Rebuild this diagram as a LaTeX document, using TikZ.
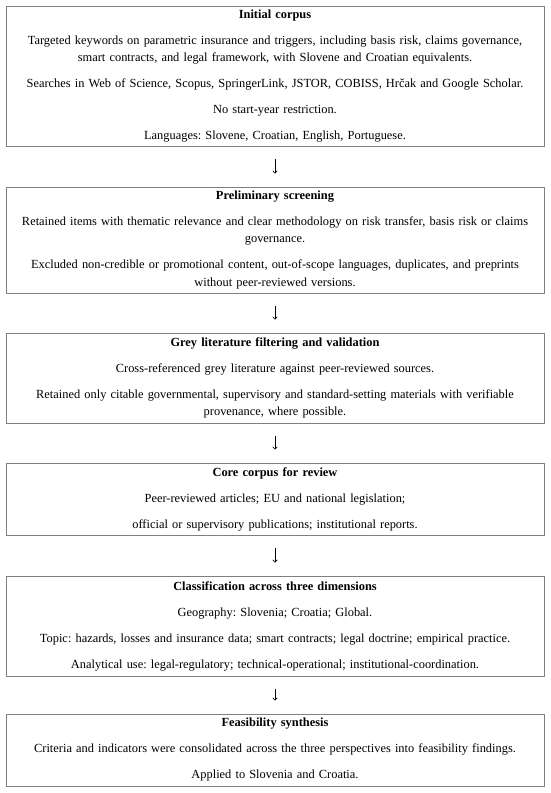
\documentclass[tikz,border=0pt]{standalone}
\usepackage{fontspec}
\setmainfont{Liberation Serif}
\usetikzlibrary{arrows.meta}
\definecolor{boxgray}{HTML}{7F7F7F}
\tikzset{
  stagebox/.style={draw=boxgray, line width=0.9pt, fill=white, inner sep=0pt,
    minimum width=538pt, text width=536pt, align=center,
    font=\fontsize{12.4}{17.5}\selectfont\frenchspacing},
  flowarrow/.style={draw=black, line width=0.6pt, -{To[length=3pt,width=5pt]},
    shorten <=13pt, shorten >=13pt}
}
\newcommand{\psk}{\\[8.5pt]}
\begin{document}
\begin{tikzpicture}[x=1pt,y=1pt]
\useasboundingbox (0,0) rectangle (550,-793);
\fill[white] (0,0) rectangle (550,-793);

\node[stagebox, minimum height=140pt] (b1) at (275,-76) {%
\textbf{Initial corpus}\psk
Targeted keywords on parametric insurance and triggers, including basis risk, claims governance,\\
smart contracts, and legal framework, with Slovene and Croatian equivalents.\psk
Searches in Web of Science, Scopus, SpringerLink, JSTOR, COBISS, Hrčak and Google Scholar.\psk
No start-year restriction.\psk
Languages: Slovene, Croatian, English, Portuguese.};

\node[stagebox, minimum height=106pt] (b2) at (275,-240) {%
\textbf{Preliminary screening}\psk
Retained items with thematic relevance and clear methodology on risk transfer, basis risk or claims\\
governance.\psk
Excluded non-credible or promotional content, out-of-scope languages, duplicates, and preprints\\
without peer-reviewed versions.};

\node[stagebox, minimum height=90pt] (b3) at (275,-378) {%
\textbf{Grey literature filtering and validation}\psk
Cross-referenced grey literature against peer-reviewed sources.\psk
Retained only citable governmental, supervisory and standard-setting materials with verifiable\\
provenance, where possible.};

\node[stagebox, minimum height=72pt] (b4) at (275,-499) {%
\textbf{Core corpus for review}\psk
Peer-reviewed articles; EU and national legislation;\psk
official or supervisory publications; institutional reports.};

\node[stagebox, minimum height=100pt] (b5) at (275,-626) {%
\textbf{Classification across three dimensions}\psk
Geography: Slovenia; Croatia; Global.\psk
Topic: hazards, losses and insurance data; smart contracts; legal doctrine; empirical practice.\psk
Analytical use: legal-regulatory; technical-operational; institutional-coordination.};

\node[stagebox, minimum height=72pt] (b6) at (275,-750) {%
\textbf{Feasibility synthesis}\psk
Criteria and indicators were consolidated across the three perspectives into feasibility findings.\psk
Applied to Slovenia and Croatia.};

\draw[flowarrow] (b1) -- (b2);
\draw[flowarrow] (b2) -- (b3);
\draw[flowarrow] (b3) -- (b4);
\draw[flowarrow] (b4) -- (b5);
\draw[flowarrow] (b5) -- (b6);
\end{tikzpicture}
\end{document}
